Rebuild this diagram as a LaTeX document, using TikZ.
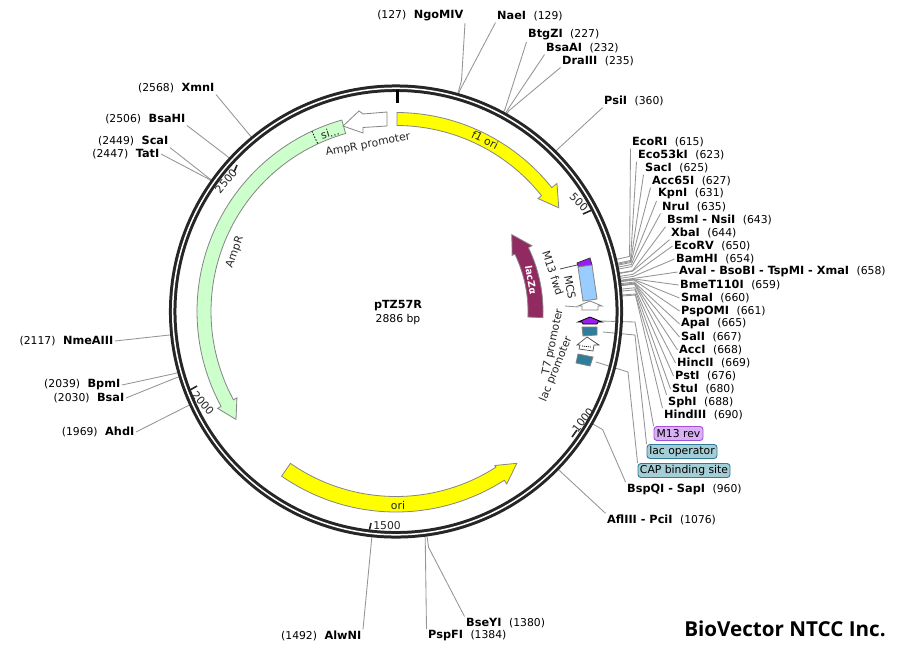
\documentclass[tikz,border=0pt]{standalone}
\usepackage{fontspec}
\setmainfont{DejaVu Sans}
\newfontfamily\logofont{Open Sans}
\newcommand{\enzname}[1]{\textbf{\fontsize{11.3}{12}\selectfont #1}}
\tikzset{
  declare function={px(\a,\r)=396+\r*sin(\a);py(\a,\r)=311.5-\r*cos(\a);},
  leader/.style={draw=black!42,line width=0.85pt},
  feature/.style={draw=black!48,line width=0.8pt,line join=miter},
  tag/.style={font=\fontsize{10.8}{12}\selectfont,inner sep=1.5pt},
  featlabel/.style={font=\fontsize{10.8}{12}\selectfont,inner sep=0pt,text=black!85},
  tickmark/.style={line width=1.6pt,draw=black!85},
  mapbox/.style={rounded corners=3pt,line width=0.9pt,font=\fontsize{10.8}{12}\selectfont,inner sep=0pt,minimum height=14pt},
}
% right-hand site: id, name, number, x, y, position, end anchor, kink radius
\newcommand{\renz}[8]{%
  \node[tag,anchor=west] (#1) at (#4-1.5,#5) {\enzname{#2}\hspace{7.5pt}(#3)};
  \pgfmathsetmacro{\ang}{#6/2886*360}
  \coordinate (#1k) at ({px(\ang,#8)},{py(\ang,#8)});
  \coordinate (#1r) at ({px(\ang,224)},{py(\ang,224)});
  \draw[leader] (#1.#7) -- (#1k) -- (#1r);
}
% left-hand site
\newcommand{\lenz}[8]{%
  \node[tag,anchor=east] (#1) at (#4,#5) {(#3)\hspace{7.5pt}\enzname{#2}};
  \pgfmathsetmacro{\ang}{#6/2886*360}
  \coordinate (#1k) at ({px(\ang,#8)},{py(\ang,#8)});
  \coordinate (#1r) at ({px(\ang,224)},{py(\ang,224)});
  \draw[leader] (#1.#7) -- (#1k) -- (#1r);
}
% arc arrow: colour, r inner, r outer, angle tail, angle head base, r wing in, r wing out, tip r, tip angle
\newcommand{\arcarrow}[9]{%
  \draw[feature,fill=#1]
    plot[variable=\t,domain=#4:#5,samples=60] ({px(\t,#3)},{py(\t,#3)})
    -- ({px(#5,#7)},{py(#5,#7)}) -- ({px(#9,#8)},{py(#9,#8)}) -- ({px(#5,#6)},{py(#5,#6)})
    -- plot[variable=\t,domain=#5:#4,samples=60] ({px(\t,#2)},{py(\t,#2)}) -- cycle;
}
\begin{document}
\begin{tikzpicture}[x=1pt,y=-1pt]
\useasboundingbox (0,0) rectangle (901,661);
\fill[white] (0,0) rectangle (901,661);

% feature label boxes
\node[mapbox,draw={rgb,255:red,166;green,80;blue,216},fill={rgb,255:red,218;green,176;blue,245},minimum width=49pt] (m13rev) at (678.5,433.5) {M13 rev};
\node[mapbox,draw={rgb,255:red,46;green,125;blue,154},fill={rgb,255:red,165;green,205;blue,214},minimum width=70pt] (lacop) at (682,451.5) {lac operator};
\node[mapbox,draw={rgb,255:red,46;green,125;blue,154},fill={rgb,255:red,165;green,205;blue,214},minimum width=92pt] (capbs) at (684,470.5) {CAP binding site};

% feature leaders
\coordinate (m13a) at (600,321); \coordinate (m13b) at (635,322);
\coordinate (opa) at (603,332);  \coordinate (opb) at (635,335);
\coordinate (capa) at (596,362); \coordinate (capb) at (628,372);
\draw[leader] (m13a) -- (m13b) -- (m13rev.north west);
\draw[leader] (opa) -- (opb) -- (lacop.north west);
\draw[leader] (capa) -- (capb) -- (capbs.north west);

% right-hand sites
\renz{ecori}{EcoRI}{615}{632}{142}{615}{south west}{240}
\renz{eco}{Eco53kI}{623}{638}{155}{623}{south west}{240}
\renz{saci}{SacI}{625}{645}{168}{625}{south west}{240}
\renz{acc}{Acc65I}{627}{652}{181}{627}{south west}{240}
\renz{kpni}{KpnI}{631}{658}{194}{631}{south west}{240}
\renz{nrui}{NruI}{635}{662}{207}{635}{south west}{240}
\renz{bsmi}{BsmI - NsiI}{643}{667}{220}{643}{south west}{240}
\renz{xbai}{XbaI}{644}{671}{233}{644}{south west}{240}
\renz{ecorv}{EcoRV}{650}{674}{246}{650}{west}{240}
\renz{bamhi}{BamHI}{654}{676}{259}{654}{west}{240}
\renz{avai}{AvaI - BsoBI - TspMI - XmaI}{658}{679}{272}{658}{west}{240}
\renz{bmet}{BmeT110I}{659}{680}{285}{659}{west}{240}
\renz{smai}{SmaI}{660}{681}{298}{660}{west}{240}
\renz{psp}{PspOMI}{661}{681}{311}{661}{west}{240}
\renz{apai}{ApaI}{665}{681}{324}{665}{west}{240}
\renz{sali}{SalI}{667}{681}{337}{667}{west}{240}
\renz{acci}{AccI}{668}{679}{350}{668}{west}{240}
\renz{hinc}{HincII}{669}{677}{363}{669}{west}{240}
\renz{psti}{PstI}{676}{675}{376}{676}{west}{240}
\renz{stui}{StuI}{680}{672}{389}{680}{west}{240}
\renz{sphi}{SphI}{688}{668}{402}{688}{north west}{240}
\renz{hind}{HindIII}{690}{664}{415}{690}{north west}{240}
\renz{bspq}{BspQI - SapI}{960}{627}{489}{960}{north west}{238}
\renz{afl}{AflIII - PciI}{1076}{607}{520}{1076}{north west}{228}
\renz{psii}{PsiI}{360}{604}{101}{360}{south west}{230}
\renz{drai}{DraIII}{235}{562}{61}{235}{south west}{230}
\renz{bsaa}{BsaAI}{232}{546}{48}{232}{south west}{230}
\renz{btg}{BtgZI}{227}{528}{35}{227}{south west}{230}
\renz{nae}{NaeI}{129}{497}{16}{129}{south west}{230}
\lenz{ngo}{NgoMIV}{127}{465}{16}{127}{south east}{240}
\lenz{xmn}{XmnI}{2568}{216}{88}{2568}{south east}{230}
\lenz{bsah}{BsaHI}{2506}{187}{119}{2506}{south east}{230}
\lenz{scai}{ScaI}{2449}{170}{141}{2449}{south east}{230}
\lenz{tati}{TatI}{2447}{161}{154}{2447}{east}{230}
\lenz{nme}{NmeAIII}{2117}{115}{341}{2117}{east}{230}
\lenz{bpm}{BpmI}{2039}{122}{385}{2039}{east}{230}
\lenz{bsai}{BsaI}{2030}{126}{398}{2030}{east}{230}
\lenz{ahd}{AhdI}{1969}{136}{432}{1969}{east}{230}
\lenz{alw}{AlwNI}{1492}{363}{636}{1492}{north east}{230}
\renz{pspf}{PspFI}{1384}{428}{636}{1384}{north west}{228}
\renz{bsey}{BseYI}{1380}{466}{623}{1380}{north west}{238}

% backbone
\coordinate (ctr) at (396,311.5);
\draw[line width=7.5pt,draw=black!85] (ctr) circle (223.3pt);
\draw[line width=1.5pt,draw=white] (ctr) circle (223.3pt);

% ticks
\draw[tickmark,line width=3pt,draw=black] (397.5,90) -- (397.5,103);
\draw[tickmark] (583,214) -- (592,210);
\draw[tickmark] (572,437) -- (577,430);
\draw[tickmark] (369,532) -- (371,523);
\draw[tickmark] (190,390) -- (197,386);
\draw[tickmark] (234,172) -- (237,165);
\node[featlabel,rotate=-45] (t500) at (579,202) {500};
\node[featlabel,rotate=52] (t1000) at (583,420) {1000};
\node[featlabel] (t1500) at (387,526) {1500};
\node[featlabel,rotate=-50] (t2000) at (203,403) {2000};
\node[featlabel,rotate=50] (t2500) at (226,181) {2500};

% large features
\definecolor{fyellow}{RGB}{255,255,0}
\definecolor{fgreen}{RGB}{204,255,204}
\definecolor{fmaroon}{RGB}{146,42,98}
\definecolor{fteal}{RGB}{46,125,154}
\definecolor{fviolet}{RGB}{153,30,240}
\definecolor{fblue}{RGB}{153,204,255}
\arcarrow{fyellow}{186}{199}{0.3}{51.5}{181.5}{205.7}{193}{57.5}
\arcarrow{fyellow}{185}{200.5}{214.8}{147.3}{183}{205}{194}{141.5}
\arcarrow{fgreen}{185}{199}{344.2}{241.5}{181}{203}{193}{236}
\arcarrow{fmaroon}{132}{147}{92.4}{64.2}{129}{151}{139}{56.4}
% AmpR signal peptide divider
\draw[line width=0.8pt,draw=black,dash pattern=on 1.5pt off 1.5pt] ({px(335,199)},{py(335,199)}) -- ({px(335,185)},{py(335,185)});
\node[featlabel,rotate=17] (si) at (330,133) {si...};
% AmpR promoter arrow
\draw[feature,fill=white] (387,112) -- (363,114) -- (359,111) -- (343,126) -- (363,133) -- (363,127.5) -- (387,126) -- cycle;

% small features
\draw[line width=0.8pt,draw=black!70] (560,269) -- (577,265);
\draw[leader] (565,306) -- (578,307);
\draw[line width=0.8pt,draw=black!80,fill=fviolet] (577,263) -- (590,258) -- (592,265) -- (579,269) -- cycle;
\draw[feature,fill=fblue] (578,267) -- (592,265) -- (597,299) -- (583,301) -- cycle;
\draw[feature,fill=white] (590,301) -- (602,306) -- (598,306) -- (598,310) -- (582,310) -- (582,306) -- (578,306) -- cycle;
\draw[line width=0.8pt,draw=black,fill=fviolet] (590,317) -- (602,322) -- (598,322) -- (597,324) -- (583,324) -- (582,322) -- (578,322) -- cycle;
\draw[feature,fill=fteal] (582,327) -- (597,327) -- (597,335) -- (583,336) -- cycle;
\draw[draw=black!70,line width=0.7pt,fill=white] (587,337) -- (599,345) -- (594,345) -- (593,351) -- (579,349) -- (580,345) -- (577,345) -- cycle;
\draw[line width=0.8pt,draw=black,dash pattern=on 1pt off 1pt] (582,346) -- (591,347);
\draw[feature,fill=fteal] (578,354) -- (593,357) -- (590,366) -- (576,363) -- cycle;

% feature names
\node[featlabel] (f1) [rotate=-27] at (485,140) {f1 ori};
\node[featlabel] (orin) at (398,505) {ori};
\node[featlabel,rotate=70] (ampr) at (235,252) {AmpR};
\node[featlabel,rotate=11] (amprp) at (368,145) {AmpR promoter};
\node[featlabel,rotate=-80,text=white,font=\fontsize{9.6}{12}\selectfont] (lacz) at (531,280) {\textbf{lacZα}};
\node[featlabel,rotate=-72] (m13f) at (553,273) {M13 fwd};
\node[featlabel,rotate=-80] (mcs) at (570,287) {MCS};
\node[featlabel,rotate=78] (t7p) at (553,342) {T7 promoter};
\node[featlabel,rotate=68] (lacp) at (556,369) {lac promoter};

% centre
\node[inner sep=0pt,font=\fontsize{11.2}{12}\selectfont\bfseries] (pname) at (398,306) {pTZ57R};
\node[inner sep=0pt,font=\fontsize{10.8}{12}\selectfont] (psize) at (398,320) {2886 bp};

% logo
\node[inner sep=0pt,font=\fontsize{20.6}{24}\selectfont\logofont\bfseries] (logo) at (785,629) {BioVector NTCC Inc.};
\end{tikzpicture}
\end{document}
